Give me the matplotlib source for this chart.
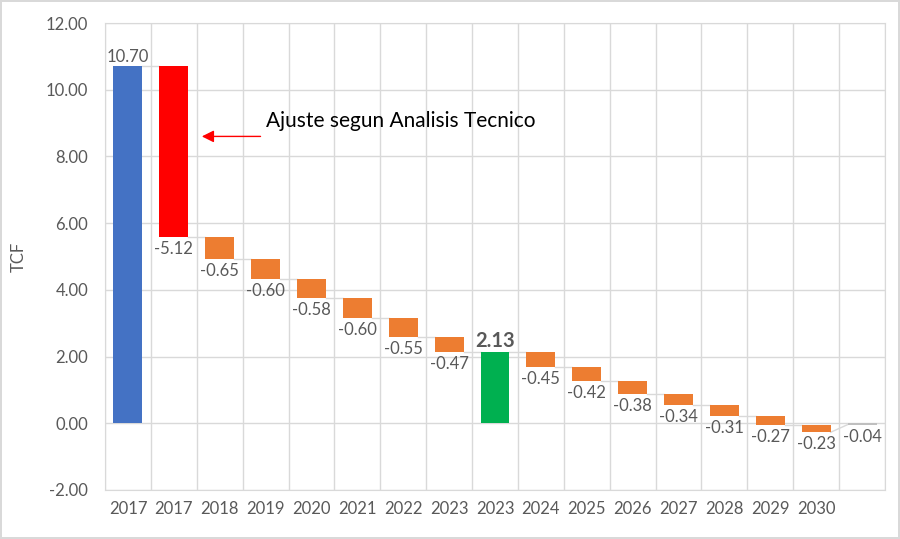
import matplotlib.pyplot as plt

plt.rcParams['font.family'] = ['Lato', 'DejaVu Sans']

# Datos del grafico de cascada
categorias = ['2017', '2017', '2018', '2019', '2020', '2021', '2022', '2023', '2023',
              '2024', '2025', '2026', '2027', '2028', '2029', '2030', '']
valores = [10.70, -5.12, -0.65, -0.60, -0.58, -0.60, -0.55, -0.47, 2.13,
           -0.45, -0.42, -0.38, -0.34, -0.31, -0.27, -0.23, -0.04]
tipos = ['total', 'ajuste', 'paso', 'paso', 'paso', 'paso', 'paso', 'paso', 'total',
         'paso', 'paso', 'paso', 'paso', 'paso', 'paso', 'paso', 'total']
colores = {'total': '#4472C4', 'ajuste': '#FF0000', 'paso': '#ED7D31'}

gris = '#595959'
rejilla = '#d9d9d9'

fig = plt.figure(figsize=(9, 5.39), dpi=100)
fig.patch.set_edgecolor(rejilla)
fig.patch.set_linewidth(1.5)
ax = fig.add_axes([105 / 900, 1 - 490 / 539, 780 / 900, 467 / 539])

x = list(range(len(valores)))
ancho = 0.63
acumulado = 0.0
inicios, finales = [], []
for i, (v, t) in enumerate(zip(valores, tipos)):
    if t == 'total':
        base = 0.0
        fin = v
    else:
        base = acumulado
        fin = acumulado + v
    acumulado = fin
    inicios.append(base)
    finales.append(fin)

    color = colores[t]
    if t == 'total' and i == 8:
        color = '#00B050'
    if t == 'total' and i == len(valores) - 1:
        color = '#bfbfbf'
    ax.bar(i, v, bottom=base, width=ancho, color=color, zorder=3)

    if t == 'total' and v > 0:
        peso = 'bold' if i == 8 else 'normal'
        tam = 14.5 if i == 8 else 12
        ax.annotate(f'{v:.2f}', (i, fin), xytext=(0, 1), textcoords='offset points',
                    ha='center', va='bottom', fontsize=tam, color=gris, fontweight=peso)
    else:
        ax.annotate(f'{v:.2f}', (i, min(base, fin)), xytext=(0, -3), textcoords='offset points',
                    ha='center', va='top', fontsize=12, color=gris)

# conectores entre barras (a la cima de los totales)
for i in range(len(valores) - 1):
    destino = finales[i + 1] if tipos[i + 1] == 'total' else inicios[i + 1]
    ax.plot([i + ancho / 2, i + 1 - ancho / 2], [finales[i], destino],
            color=rejilla, lw=1, zorder=2)

ax.set_xlim(-0.5, len(valores) - 0.5)
ax.set_ylim(-2, 12)
ax.set_yticks([-2, 0, 2, 4, 6, 8, 10, 12])
ax.set_yticklabels([f'{t:.2f}' for t in [-2, 0, 2, 4, 6, 8, 10, 12]])
ax.set_xticks(x)
ax.set_xticklabels(categorias)
ax.tick_params(length=0, labelsize=12, colors=gris, pad=8)
ax.tick_params(axis='y', pad=12)

ax.set_xticks([i - 0.5 for i in range(len(valores) + 1)], minor=True)
ax.grid(axis='y', color=rejilla, lw=1, zorder=0)
ax.grid(axis='x', which='minor', color=rejilla, lw=1, zorder=0)
ax.grid(axis='x', which='major', visible=False)
ax.tick_params(which='minor', length=0)
for s in ax.spines.values():
    s.set_color(rejilla)

ax.set_ylabel('TCF', fontsize=12, color=gris, labelpad=14)

ax.annotate('', xy=(1.55, 8.6), xytext=(2.95, 8.6),
            arrowprops=dict(arrowstyle='-|>', color='#FF0000', lw=1, mutation_scale=18))
ax.text(3.0, 9.05, 'Ajuste segun Analisis Tecnico', fontsize=15, color='black',
        ha='left', va='center')

plt.savefig('out.png', dpi=100)
